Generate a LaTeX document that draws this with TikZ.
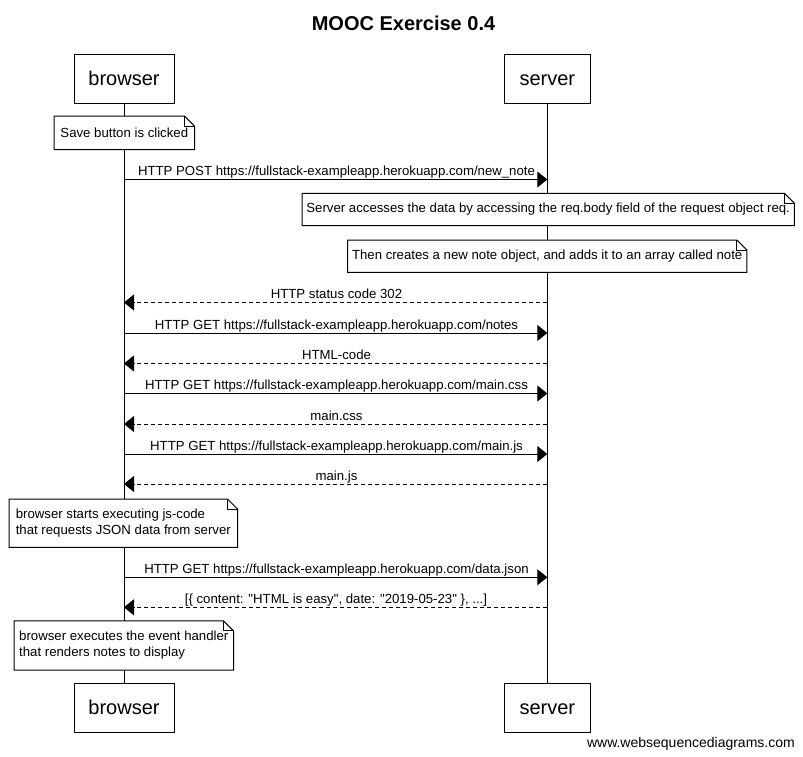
\documentclass[tikz,border=0pt]{standalone}
\usepackage{fontspec}
\setmainfont{Liberation Sans}
\usetikzlibrary{arrows.meta}
\pgfdeclarelayer{back}
\pgfdeclarelayer{mid}
\pgfsetlayers{back,mid,main}
\begin{document}
\begin{tikzpicture}[x=1pt,y=-1pt,
  actor/.style={draw,line width=1pt,minimum height=49pt,inner sep=0pt,text height=17pt,text depth=4pt,font=\fontsize{20}{24}\selectfont},
  notebox/.style={inner sep=0pt,align=center,font=\fontsize{13.2}{16}\selectfont},
  lbl/.style={inner sep=0pt,anchor=base,font=\fontsize{13.2}{15}\selectfont},
  msg/.style={line width=1pt,-{Triangle[length=10pt,width=16pt]}},
  ret/.style={msg,dash pattern=on 4pt off 3pt},
  life/.style={line width=1pt},
  noteline/.style={line width=1pt,fill=white}
]
\useasboundingbox (0,0) rectangle (803,756);
\node[anchor=base,inner sep=0pt,font=\bfseries\fontsize{20}{24}\selectfont] (title) at (403.5,30) {MOOC Exercise 0.4};

\node[actor,minimum width=100pt] (b1) at (124,78.5) {browser};
\node[actor,minimum width=86pt] (s1) at (547.3,78.5) {server};
\node[actor,minimum width=100pt] (b2) at (124,707.5) {browser};
\node[actor,minimum width=86pt] (s2) at (547.3,707.5) {server};
\begin{pgfonlayer}{back}
\draw[life] (b1.south) -- (b2.north);
\draw[life] (s1.south) -- (s2.north);
\end{pgfonlayer}

% notes
\node[notebox,minimum width=140pt,minimum height=33pt] (n1) at (124.3,132.8) {Save button is clicked};
\node[notebox,minimum width=492pt,minimum height=32pt] (n2) at (548.2,209.5) {Server accesses the data by accessing the req.body field of the request object req.};
\node[notebox,minimum width=399pt,minimum height=32pt] (n3) at (547.2,256.2) {Then creates a new note object, and adds it to an array called note};
\node[notebox,align=left,minimum width=228pt,minimum height=48pt] (n4) at (123.3,523.2) {browser starts executing js-code\\that requests JSON data from server};
\node[notebox,align=left,minimum width=219pt,minimum height=49pt] (n5) at (123.8,645.5) {browser executes the event handler\\that renders notes to display};
\begin{pgfonlayer}{mid}
\foreach \n in {n1,n2,n3,n4,n5}{
  \filldraw[noteline] (\n.south west) -- (\n.north west) -- ([xshift=-10pt]\n.north east) -- ([yshift=-10pt]\n.north east) -- (\n.south east) -- cycle;
  \draw[line width=1pt] ([xshift=-10pt]\n.north east) -- ([xshift=-10pt,yshift=-10pt]\n.north east) -- ([yshift=-10pt]\n.north east);
}
\end{pgfonlayer}

% lifeline anchor points
\foreach \y [count=\i] in {179.5,302.5,333,363.5,393.5,424,454,484,577.3,607.3}{
  \coordinate (bl\i) at (124,\y);
  \coordinate (sl\i) at (547.3,\y);
}

\draw[msg] (bl1) -- (sl1);
\node[lbl] (m1) at (336.5,175.8) {HTTP POST https://fullstack-exampleapp.herokuapp.com/new\_note};
\draw[ret] (sl2) -- (bl2);
\node[lbl] (m2) at (336.5,298.8) {HTTP status code 302};
\draw[msg] (bl3) -- (sl3);
\node[lbl] (m3) at (336.5,329.3) {HTTP GET https://fullstack-exampleapp.herokuapp.com/notes};
\draw[ret] (sl4) -- (bl4);
\node[lbl] (m4) at (336.5,359.8) {HTML-code};
\draw[msg] (bl5) -- (sl5);
\node[lbl] (m5) at (336.5,389.8) {HTTP GET https://fullstack-exampleapp.herokuapp.com/main.css};
\draw[ret] (sl6) -- (bl6);
\node[lbl] (m6) at (336.5,420.3) {main.css};
\draw[msg] (bl7) -- (sl7);
\node[lbl] (m7) at (336.5,450.3) {HTTP GET https://fullstack-exampleapp.herokuapp.com/main.js};
\draw[ret] (sl8) -- (bl8);
\node[lbl] (m8) at (336.5,480.3) {main.js};
\draw[msg] (bl9) -- (sl9);
\node[lbl] (m9) at (336.5,573.6) {HTTP GET https://fullstack-exampleapp.herokuapp.com/data.json};
\draw[ret] (sl10) -- (bl10);
\node[lbl] (m10) at (336,603.6) {[\{ content: \textquotedbl HTML is easy\textquotedbl, date: \textquotedbl 2019-05-23\textquotedbl\ \}, ...]};

\node[anchor=base east,inner sep=0pt,font=\fontsize{14}{16}\selectfont] (wm) at (795,747.3) {www.websequencediagrams.com};
\end{tikzpicture}
\end{document}
